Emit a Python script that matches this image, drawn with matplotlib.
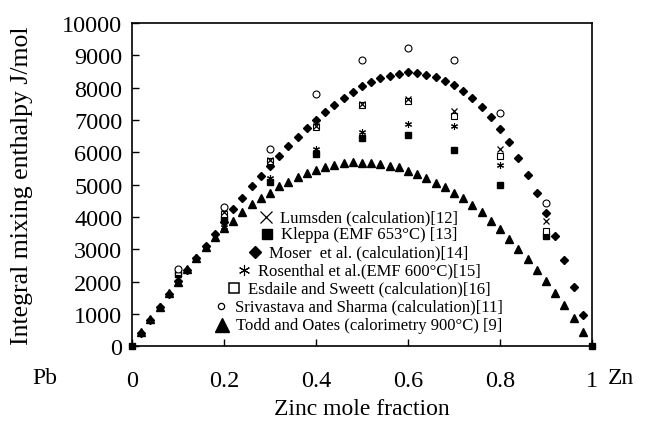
import numpy as np
import matplotlib
matplotlib.use('Agg')
import matplotlib.pyplot as plt

plt.rcParams['font.family'] = ['Liberation Serif', 'DejaVu Serif']

# composition grid of the two dense curves
x_curve = [0.02, 0.04, 0.06, 0.08, 0.10, 0.12, 0.14, 0.16, 0.18, 0.20,
           0.22, 0.24, 0.26, 0.28, 0.30, 0.32, 0.34, 0.36, 0.38, 0.40,
           0.42, 0.44, 0.46, 0.48, 0.50, 0.52, 0.54, 0.56, 0.58, 0.60,
           0.62, 0.64, 0.66, 0.68, 0.70, 0.72, 0.74, 0.76, 0.78, 0.80,
           0.82, 0.84, 0.86, 0.88, 0.90, 0.92, 0.94, 0.96, 0.98]

todd = [460, 850, 1230, 1645, 2000, 2395, 2750, 3065, 3370, 3650,
        3890, 4150, 4390, 4580, 4760, 4950, 5075, 5230, 5360, 5465,
        5560, 5610, 5660, 5690, 5670, 5660, 5640, 5590, 5540, 5435,
        5330, 5195, 5065, 4935, 4755, 4585, 4375, 4150, 3890, 3630,
        3320, 3015, 2705, 2375, 2035, 1655, 1280, 870, 440]

moser = [430, 820, 1210, 1620, 2030, 2375, 2735, 3115, 3480, 3860,
         4250, 4590, 4950, 5260, 5580, 5900, 6210, 6485, 6745, 7010,
         7260, 7465, 7670, 7870, 8050, 8165, 8290, 8370, 8425, 8475,
         8455, 8400, 8320, 8215, 8090, 7900, 7670, 7415, 7105, 6720,
         6310, 5840, 5310, 4745, 4120, 3405, 2675, 1850, 975]

# other sources at 0.1 steps
x_pts = [0.1, 0.2, 0.3, 0.4, 0.5, 0.6, 0.7, 0.8, 0.9]
lumsden = [2350, 4150, 5750, 6830, 7500, 7650, 7290, 6105, 3870]
esdaile = [2300, 4100, 5730, 6800, 7470, 7600, 7135, 5880, 3580]
rosenthal = [2200, 3700, 5200, 6100, 6620, 6870, 6825, 5610, 3450]
srivastava = [2400, 4300, 6105, 7790, 8865, 9220, 8865, 7215, 4430]
x_kleppa = [0.0, 0.1, 0.2, 0.3, 0.4, 0.5, 0.6, 0.7, 0.8, 0.9, 1.0]
kleppa = [0, 2240, 3940, 5075, 5950, 6440, 6540, 6085, 4990, 3405, 0]

legend_labels = ['Lumsden (calculation)[12]',
                 'Kleppa (EMF 653\u00b0C) [13]',
                 'Moser  et al. (calculation)[14]',
                 'Rosenthal et al.(EMF 600\u00b0C)[15]',
                 'Esdaile and Sweett (calculation)[16]',
                 'Srivastava and Sharma (calculation)[11]',
                 'Todd and Oates (calorimetry 900\u00b0C) [9]']

asterisk = (6, 2, 0)

fig = plt.figure(figsize=(6.46, 4.27), dpi=100)
ax = fig.add_axes([0.2043, 0.1862, 0.7121, 0.7576])

ax.plot(x_curve, todd, ls='none', marker='^', ms=5.5, color='k')
ax.plot(x_curve, moser, ls='none', marker='D', ms=4.3, color='k')
ax.plot(x_kleppa, kleppa, ls='none', marker='s', ms=4.8, color='k', clip_on=False)
ax.plot(x_pts, rosenthal, ls='none', marker=asterisk, ms=5, color='k', mew=0.8)
ax.plot(x_pts, esdaile, ls='none', marker='s', ms=4.5, mfc='white', mec='k', mew=0.8)
ax.plot(x_pts, lumsden, ls='none', marker='x', ms=4.5, color='k', mew=0.9)
ax.plot(x_pts, srivastava, ls='none', marker='o', ms=5, mfc='white', mec='k', mew=0.8)

ax.set_xlim(0, 1)
ax.set_ylim(0, 10000)
ax.set_xticks([0, 0.2, 0.4, 0.6, 0.8, 1.0])
ax.set_xticklabels(['0', '0.2', '0.4', '0.6', '0.8', '1'])
ax.set_yticks(np.arange(0, 10001, 1000))
ax.tick_params(axis='both', direction='in', labelsize=17.5, length=5, width=1)
ax.tick_params(axis='x', pad=17)
ax.tick_params(axis='y', pad=7)
for s in ax.spines.values():
    s.set_linewidth(1.2)

ax.set_xlabel('Zinc mole fraction', fontsize=17, labelpad=5)
ax.set_ylabel('Integral mixing enthalpy J/mol', fontsize=18.5, labelpad=21)

fig.text(45 / 646, 1 - 379 / 427, 'Pb', fontsize=17, ha='center', va='center')
fig.text(621 / 646, 1 - 379 / 427, 'Zn', fontsize=17, ha='center', va='center')

# hand-made legend: centred text rows, marker just left of each row
leg_markers = [dict(marker='x', ms=8, mew=0.9, color='k'),
               dict(marker='s', ms=7.5, color='k'),
               dict(marker='D', ms=6.5, color='k'),
               dict(marker=asterisk, ms=8, mew=0.8, color='k'),
               dict(marker='s', ms=7, mfc='white', mec='k', mew=1.1),
               dict(marker='o', ms=4.5, mfc='white', mec='k', mew=0.9),
               dict(marker='^', ms=9.5, color='k')]
row_y = [218, 235, 253, 271, 289, 307, 326]
texts = []
for lab, yy in zip(legend_labels, row_y):
    t = ax.text(0.515, (347.5 - yy) / 323.5, lab, transform=ax.transAxes,
                ha='center', va='center', fontsize=12)
    texts.append(t)

fig.canvas.draw()
inv = ax.transAxes.inverted()
for t, mk, yy in zip(texts, leg_markers, row_y):
    bb = t.get_window_extent()
    x0 = inv.transform((bb.x0 - 14, 0))[0]
    ax.plot([x0], [(347.5 - yy) / 323.5], transform=ax.transAxes,
            ls='none', clip_on=False, **mk)

fig.savefig('out.png', dpi=100)
